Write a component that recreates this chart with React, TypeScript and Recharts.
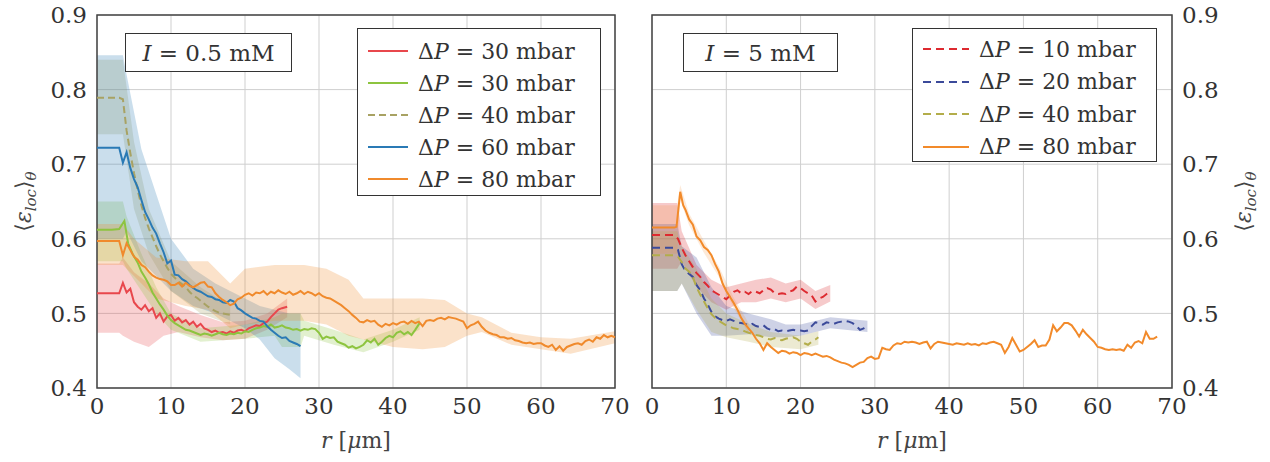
import React from 'react'
import { ComposedChart, Line, Area, XAxis, YAxis, CartesianGrid, ReferenceArea } from 'recharts'

// --- axes ---
const X_TICKS = [0, 10, 20, 30, 40, 50, 60, 70]
const Y_TICKS = [0.4, 0.5, 0.6, 0.7, 0.8, 0.9]

// --- I = 0.5 mM : [r, mean] and bands [r, low, high] ---
const L_RED_30 = [[0,0.527],[1,0.527],[2,0.527],[3,0.527],[3.5,0.541],[4,0.528],[4.5,0.533],[5,0.515],[5.5,0.509],[6,0.505],[6.5,0.511],[7,0.503],[7.5,0.507],[8,0.494],[8.5,0.5],[9,0.489],[9.5,0.496],[10,0.498],[10.5,0.49],[11,0.494],[11.5,0.488],[12,0.491],[12.5,0.485],[13,0.489],[13.5,0.482],[14,0.486],[14.5,0.48],[15,0.478],[15.5,0.475],[16,0.477],[16.5,0.474],[17,0.475],[17.5,0.473],[18,0.476],[18.5,0.474],[19,0.477],[19.5,0.478],[20,0.476],[20.5,0.48],[21,0.482],[21.5,0.484],[22,0.483],[22.5,0.487],[23,0.489],[23.5,0.495],[24,0.5],[24.5,0.505],[25,0.507],[25.7,0.509]]
const L_RED_30_BAND = [[0,0.474,0.567],[3,0.474,0.567],[3.5,0.47,0.575],[5,0.462,0.555],[7,0.455,0.54],[9,0.47,0.52],[11,0.475,0.51],[14,0.468,0.498],[17,0.464,0.488],[20,0.466,0.49],[23,0.478,0.5],[25.7,0.495,0.52]]

const L_GREEN_30 = [[0,0.612],[1,0.612],[2,0.612],[3,0.613],[3.7,0.624],[4.2,0.594],[4.8,0.58],[5.5,0.568],[6,0.556],[6.5,0.548],[7,0.539],[7.5,0.528],[8,0.52],[8.5,0.512],[9,0.505],[9.5,0.497],[10,0.491],[10.5,0.487],[11,0.484],[11.5,0.481],[12,0.478],[12.5,0.477],[13,0.475],[13.5,0.473],[14,0.471],[14.5,0.473],[15,0.472],[15.5,0.47],[16,0.472],[16.5,0.474],[17,0.472],[17.5,0.471],[18,0.473],[18.5,0.472],[19,0.474],[19.5,0.473],[20,0.476],[20.5,0.475],[21,0.478],[21.5,0.48],[22,0.481],[22.5,0.483],[23,0.482],[23.5,0.485],[24,0.481],[24.5,0.482],[25,0.484],[25.5,0.481],[26,0.48],[26.5,0.478],[27,0.479],[27.5,0.477],[28,0.479],[28.5,0.478],[29,0.48],[29.5,0.479],[30,0.474],[30.5,0.466],[31,0.469],[31.5,0.467],[32,0.468],[32.5,0.462],[33,0.46],[33.5,0.458],[34,0.454],[34.5,0.456],[35,0.453],[35.5,0.455],[36,0.458],[36.5,0.464],[37,0.461],[37.5,0.466],[38,0.458],[38.5,0.462],[39,0.467],[39.5,0.47],[40,0.468],[40.5,0.474],[41,0.476],[41.5,0.472],[42,0.475],[42.5,0.471],[43,0.478],[43.6,0.487]]
const L_GREEN_30_BAND = [[0,0.57,0.65],[3.5,0.57,0.65],[4,0.56,0.63],[6,0.53,0.58],[8,0.5,0.535],[10,0.478,0.5],[14,0.462,0.48],[20,0.466,0.485],[24,0.47,0.495],[25,0.455,0.5],[27.5,0.455,0.5],[28,0.47,0.49],[32,0.458,0.478],[36,0.448,0.465],[40,0.462,0.478],[43.6,0.478,0.495]]

const L_OLIVE_40 = [[0,0.789],[1,0.789],[2,0.789],[3,0.789],[3.5,0.787],[4,0.745],[4.5,0.715],[5,0.688],[5.5,0.665],[6,0.645],[6.5,0.628],[7,0.614],[7.5,0.602],[8,0.59],[8.5,0.579],[9,0.57],[9.5,0.561],[10,0.553],[10.5,0.548],[11,0.543],[11.5,0.539],[12,0.535],[12.5,0.529],[13,0.524],[13.5,0.521],[14,0.517],[14.5,0.513],[15,0.509],[15.5,0.506],[16,0.503],[16.5,0.501],[17,0.5],[18,0.498]]
const L_OLIVE_40_BAND = [[0,0.74,0.84],[3.5,0.74,0.84],[5,0.64,0.73],[7,0.58,0.64],[10,0.53,0.57],[14,0.5,0.535],[18,0.485,0.51]]

const L_BLUE_60 = [[0,0.722],[1,0.722],[2,0.722],[3,0.722],[3.5,0.702],[4,0.716],[4.5,0.695],[5,0.68],[5.5,0.669],[6,0.652],[6.5,0.636],[7,0.626],[7.5,0.615],[8,0.607],[8.5,0.594],[9,0.582],[9.5,0.567],[10,0.571],[10.5,0.552],[11,0.551],[11.5,0.546],[12,0.543],[12.5,0.538],[13,0.534],[13.5,0.531],[14,0.529],[14.5,0.526],[15,0.523],[15.5,0.522],[16,0.519],[16.5,0.518],[17,0.515],[17.5,0.514],[18,0.518],[18.5,0.516],[19,0.507],[19.5,0.504],[20,0.5],[20.5,0.497],[21,0.494],[21.5,0.493],[22,0.49],[22.5,0.489],[23,0.483],[23.5,0.478],[24,0.474],[24.5,0.47],[25,0.467],[25.5,0.468],[26,0.463],[26.5,0.461],[27,0.459],[27.5,0.456]]
const L_BLUE_60_BAND = [[0,0.6,0.846],[3.5,0.6,0.846],[4,0.61,0.82],[6,0.57,0.72],[8,0.55,0.66],[10,0.53,0.6],[13,0.51,0.56],[16,0.5,0.54],[20,0.48,0.52],[22,0.465,0.51],[24,0.44,0.505],[26,0.425,0.5],[27.5,0.413,0.5]]

const L_ORANGE_80 = [[0,0.597],[1,0.597],[2,0.597],[3,0.597],[3.5,0.578],[4,0.594],[4.5,0.585],[5,0.576],[5.5,0.572],[6,0.565],[6.5,0.562],[7,0.556],[7.5,0.551],[8,0.548],[8.5,0.546],[9,0.545],[9.5,0.543],[10,0.538],[10.5,0.538],[11,0.541],[11.5,0.536],[12,0.541],[12.5,0.537],[13,0.535],[13.5,0.538],[14,0.541],[14.5,0.542],[15,0.536],[15.5,0.535],[16,0.527],[16.5,0.522],[17,0.518],[17.5,0.515],[18,0.511],[18.5,0.513],[19,0.519],[19.5,0.521],[20,0.525],[20.5,0.527],[21,0.524],[21.5,0.528],[22,0.527],[22.5,0.53],[23,0.525],[23.5,0.529],[24,0.527],[24.5,0.531],[25,0.528],[25.5,0.526],[26,0.529],[26.5,0.525],[27,0.527],[27.5,0.53],[28,0.526],[28.5,0.529],[29,0.527],[29.5,0.524],[30,0.527],[30.5,0.523],[31,0.521],[31.5,0.52],[32,0.517],[32.5,0.514],[33,0.511],[33.5,0.507],[34,0.503],[34.5,0.498],[35,0.494],[35.5,0.489],[36,0.488],[36.5,0.491],[37,0.489],[37.5,0.49],[38,0.485],[38.5,0.482],[39,0.486],[39.5,0.484],[40,0.487],[40.5,0.485],[41,0.488],[41.5,0.489],[42,0.486],[42.5,0.49],[43,0.487],[43.5,0.489],[44,0.483],[44.5,0.49],[45,0.491],[45.5,0.49],[46,0.493],[46.5,0.494],[47,0.492],[47.5,0.495],[48,0.494],[48.5,0.493],[49,0.491],[49.5,0.489],[50,0.48],[50.5,0.484],[51,0.486],[51.5,0.489],[52,0.482],[52.5,0.477],[53,0.474],[53.5,0.472],[54,0.471],[54.5,0.468],[55,0.468],[55.5,0.466],[56,0.467],[56.5,0.464],[57,0.463],[57.5,0.461],[58,0.46],[58.5,0.461],[59,0.459],[59.5,0.46],[60,0.46],[60.5,0.457],[61,0.455],[61.5,0.458],[62,0.451],[62.5,0.456],[63,0.45],[63.5,0.455],[64,0.457],[64.5,0.459],[65,0.46],[65.5,0.458],[66,0.463],[66.5,0.465],[67,0.462],[67.5,0.468],[68,0.466],[68.5,0.471],[69,0.468],[69.5,0.47],[70,0.468]]
const L_ORANGE_80_BAND = [[0,0.565,0.62],[3.5,0.565,0.62],[5,0.55,0.6],[8,0.52,0.575],[12,0.51,0.57],[15,0.505,0.57],[18,0.48,0.54],[20,0.485,0.56],[24,0.49,0.565],[28,0.49,0.565],[31,0.485,0.56],[34,0.47,0.545],[36,0.465,0.52],[40,0.455,0.52],[44,0.452,0.52],[47,0.455,0.518],[50,0.47,0.5],[52,0.475,0.495],[56,0.458,0.474],[60,0.452,0.468],[64,0.446,0.466],[70,0.46,0.476]]

// --- I = 5 mM ---
const R_RED_10 = [[0,0.605],[1,0.605],[2,0.605],[3,0.605],[3.5,0.6],[4,0.588],[4.5,0.578],[5,0.57],[5.5,0.562],[6,0.554],[6.5,0.549],[7,0.542],[7.5,0.537],[8,0.531],[8.5,0.528],[9,0.525],[9.5,0.522],[10,0.519],[10.5,0.524],[11,0.529],[11.5,0.531],[12,0.527],[12.5,0.529],[13,0.526],[13.5,0.53],[14,0.529],[14.5,0.527],[15,0.531],[15.5,0.534],[16,0.532],[16.5,0.527],[17,0.526],[17.5,0.527],[18,0.526],[18.5,0.529],[19,0.531],[19.5,0.536],[20,0.534],[20.5,0.53],[21,0.527],[21.5,0.524],[22,0.516],[22.5,0.52],[23,0.522],[23.5,0.526],[24,0.528]]
const R_RED_10_BAND = [[0,0.56,0.648],[3.4,0.56,0.648],[4,0.57,0.61],[6,0.535,0.565],[8,0.515,0.545],[10,0.505,0.535],[12,0.515,0.54],[14,0.515,0.545],[16,0.52,0.548],[18,0.515,0.54],[20,0.52,0.545],[22,0.506,0.53],[24,0.516,0.538]]

const R_BLUE_20 = [[0,0.588],[1,0.588],[2,0.588],[3,0.588],[3.5,0.585],[4,0.566],[4.5,0.557],[5,0.553],[5.5,0.549],[6,0.538],[6.5,0.531],[7,0.52],[7.5,0.512],[8,0.502],[8.5,0.496],[9,0.493],[9.5,0.491],[10,0.49],[10.5,0.492],[11,0.49],[11.5,0.488],[12,0.487],[12.5,0.486],[13,0.484],[13.5,0.486],[14,0.483],[14.5,0.482],[15,0.484],[15.5,0.48],[16,0.478],[16.5,0.479],[17,0.476],[17.5,0.477],[18,0.476],[18.5,0.477],[19,0.478],[19.5,0.477],[20,0.477],[20.5,0.476],[21,0.477],[21.5,0.483],[22,0.488],[22.5,0.487],[23,0.485],[23.5,0.488],[24,0.487],[24.5,0.486],[25,0.488],[25.5,0.489],[26,0.49],[26.5,0.489],[27,0.487],[27.5,0.483],[28,0.478],[28.5,0.48],[29,0.483]]
const R_BLUE_20_BAND = [[0,0.53,0.62],[3.4,0.53,0.62],[4,0.54,0.59],[6,0.5,0.575],[8,0.47,0.535],[10,0.47,0.51],[13,0.472,0.5],[16,0.468,0.492],[18,0.468,0.485],[20,0.47,0.485],[24,0.48,0.495],[29,0.475,0.49]]

const R_OLIVE_40 = [[0,0.578],[1,0.578],[2,0.578],[3,0.578],[3.5,0.576],[4,0.569],[4.5,0.56],[5,0.556],[5.5,0.549],[6,0.535],[6.5,0.525],[7,0.516],[7.5,0.507],[8,0.499],[8.5,0.494],[9,0.49],[9.5,0.487],[10,0.484],[10.5,0.482],[11,0.48],[11.5,0.479],[12,0.478],[12.5,0.476],[13,0.474],[13.5,0.473],[14,0.471],[14.5,0.47],[15,0.468],[15.5,0.466],[16,0.465],[16.5,0.467],[17,0.465],[17.5,0.464],[18,0.466],[18.5,0.467],[19,0.468],[19.5,0.466],[20,0.462],[20.5,0.46],[21,0.458],[21.5,0.462],[22,0.465],[22.4,0.468]]
const R_OLIVE_40_BAND = [[0,0.53,0.61],[3.4,0.53,0.61],[4,0.54,0.59],[6,0.505,0.56],[8,0.475,0.52],[10,0.468,0.5],[13,0.462,0.486],[16,0.455,0.475],[20,0.452,0.47],[22.4,0.458,0.476]]

const R_ORANGE_80 = [[0,0.615],[1,0.615],[2,0.615],[3,0.615],[3.3,0.616],[3.8,0.663],[4.2,0.645],[4.5,0.639],[5,0.626],[5.5,0.619],[6,0.603],[6.5,0.598],[7,0.589],[7.5,0.585],[8,0.578],[8.5,0.566],[9,0.556],[9.5,0.54],[10,0.53],[10.5,0.522],[11,0.514],[11.5,0.505],[12,0.494],[12.5,0.486],[13,0.48],[13.5,0.474],[14,0.466],[14.5,0.46],[15,0.451],[15.5,0.46],[16,0.455],[16.5,0.451],[17,0.447],[17.5,0.45],[18,0.449],[18.5,0.446],[19,0.448],[19.5,0.447],[20,0.444],[20.5,0.447],[21,0.446],[21.5,0.444],[22,0.446],[22.5,0.444],[23,0.442],[23.5,0.443],[24,0.441],[24.5,0.438],[25,0.436],[25.5,0.434],[26,0.433],[26.5,0.431],[27,0.428],[27.5,0.431],[28,0.434],[28.5,0.435],[29,0.44],[29.5,0.442],[30,0.439],[30.5,0.44],[31,0.454],[31.5,0.452],[32,0.451],[32.5,0.457],[33,0.46],[33.5,0.459],[34,0.462],[34.5,0.461],[35,0.462],[35.5,0.461],[36,0.459],[36.5,0.461],[37,0.462],[37.5,0.453],[38,0.459],[38.5,0.462],[39,0.461],[39.5,0.46],[40,0.459],[40.5,0.458],[41,0.46],[41.5,0.459],[42,0.458],[42.5,0.46],[43,0.458],[43.5,0.459],[44,0.457],[44.5,0.46],[45,0.459],[45.5,0.461],[46,0.462],[46.5,0.46],[47,0.458],[47.5,0.447],[48,0.455],[48.5,0.467],[49,0.458],[49.5,0.449],[50,0.451],[50.5,0.455],[51,0.459],[51.5,0.464],[52,0.455],[52.5,0.457],[53,0.457],[53.5,0.465],[54,0.484],[54.5,0.476],[55,0.481],[55.5,0.487],[56,0.487],[56.5,0.484],[57,0.477],[57.5,0.469],[58,0.478],[58.5,0.472],[59,0.467],[59.5,0.462],[60,0.455],[60.5,0.454],[61,0.452],[61.5,0.451],[62,0.452],[62.5,0.451],[63,0.452],[63.5,0.45],[64,0.458],[64.5,0.454],[65,0.461],[65.5,0.463],[66,0.46],[66.5,0.475],[67,0.466],[67.5,0.466],[68,0.469]]
const R_ORANGE_80_BAND = [[0,0.58,0.645],[3.4,0.58,0.645],[3.8,0.652,0.672],[5,0.618,0.634],[7,0.581,0.597],[9,0.549,0.563],[11,0.507,0.521],[13,0.473,0.487]]

const FONT = '"DejaVu Serif", serif'

const toLine = (a: number[][]) => a.map(([r, v]) => ({ r, v }))
const toBand = (a: number[][]) => a.map(([r, lo, hi]) => ({ r, band: [lo, hi] }))

type Series = { label: string; color: string; dash?: string; line: number[][]; band: number[][]; bandOpacity?: number }

const LEFT: Series[] = [
  { label: '30', color: '#e8474c', line: L_RED_30, band: L_RED_30_BAND },
  { label: '30', color: '#8dc43f', line: L_GREEN_30, band: L_GREEN_30_BAND },
  { label: '40', color: '#a8a263', dash: '7 4', line: L_OLIVE_40, band: L_OLIVE_40_BAND },
  { label: '60', color: '#2a7ab5', line: L_BLUE_60, band: L_BLUE_60_BAND },
  { label: '80', color: '#f08a2c', line: L_ORANGE_80, band: L_ORANGE_80_BAND },
]

const RIGHT: Series[] = [
  { label: '10', color: '#dd2a30', dash: '8 5', line: R_RED_10, band: R_RED_10_BAND },
  { label: '20', color: '#3b4a9a', dash: '8 5', line: R_BLUE_20, band: R_BLUE_20_BAND },
  { label: '40', color: '#b3ad4a', dash: '8 5', line: R_OLIVE_40, band: R_OLIVE_40_BAND },
  { label: '80', color: '#f28a2a', line: R_ORANGE_80, band: R_ORANGE_80_BAND, bandOpacity: 0.18 },
]

const tickStyle = { fontSize: 23, fill: '#333', fontFamily: FONT }

function YLabel({ viewBox, side }: any) {
  const cx = side === 'left' ? viewBox.x + 25 : viewBox.x + 73
  const cy = viewBox.y + viewBox.height / 2
  return (
    <text x={0} y={0} transform={`translate(${cx + 6},${cy}) rotate(-90)`} textAnchor="middle" fontFamily={FONT} fontSize={22} fill="#444">
      ⟨<tspan fontStyle="italic">ε</tspan>
      <tspan fontStyle="italic" fontSize={15} dy={5}>loc</tspan>
      <tspan dy={-5}>⟩</tspan>
      <tspan fontStyle="italic" fontSize={15} dy={5}>θ</tspan>
    </text>
  )
}

function XLabel({ viewBox }: any) {
  return (
    <text x={viewBox.x + viewBox.width / 2} y={viewBox.y + 60} textAnchor="middle" fontFamily={FONT} fontSize={22} fill="#444">
      <tspan fontStyle="italic">r</tspan> [<tspan fontStyle="italic">μ</tspan>m]
    </text>
  )
}

function Panel({ series, side, width, margin }: { series: Series[]; side: 'left' | 'right'; width: number; margin: any }) {
  return (
    <ComposedChart width={width} height={462} margin={margin}>
      <CartesianGrid stroke="#cfcfcf" strokeWidth={1} />
      <XAxis
        dataKey="r" type="number" domain={[0, 70]} ticks={X_TICKS} allowDuplicatedCategory={false}
        height={74} tickSize={0} tickMargin={10} axisLine={false} tick={tickStyle}
        label={<XLabel />}
      />
      <YAxis
        type="number" domain={[0.4, 0.9]} ticks={Y_TICKS} orientation={side} width={side === 'left' ? 97 : 98}
        tickSize={0} tickMargin={10} axisLine={false} tick={tickStyle} tickFormatter={(v: number) => v.toFixed(1)}
        label={<YLabel side={side} />}
      />
      {series.map((s, i) => (
        <Area key={'b' + i} data={toBand(s.band)} dataKey="band" type="linear" stroke="none" fill={s.color} fillOpacity={s.bandOpacity ?? 0.25} isAnimationActive={false} />
      ))}
      {series.map((s, i) => (
        <Line key={'l' + i} data={toLine(s.line)} dataKey="v" type="linear" stroke={s.color} strokeWidth={2} strokeDasharray={s.dash} dot={false} isAnimationActive={false} />
      ))}
      <ReferenceArea x1={0} x2={70} y1={0.4} y2={0.9} fill="none" stroke="#444" strokeWidth={1.5} ifOverflow="visible" />
    </ComposedChart>
  )
}

function LegendBox({ series, left, top, width, height, rowH, firstY, sampleW }: any) {
  return (
    <div style={{ position: 'absolute', left, top, width, height, border: '1.5px solid #333', background: '#fff', boxSizing: 'border-box', fontFamily: FONT, fontSize: 22, color: '#333' }}>
      {series.map((s: Series, i: number) => (
        <div key={i} style={{ position: 'absolute', left: 10, top: firstY + i * rowH - 14, height: 28, display: 'flex', alignItems: 'center', whiteSpace: 'nowrap' }}>
          <svg width={sampleW} height={10} style={{ marginRight: 10 }}>
            <line x1={0} y1={5} x2={sampleW} y2={5} stroke={s.color} strokeWidth={2} strokeDasharray={s.dash} />
          </svg>
          <span>Δ<i>P</i> = {s.label} mbar</span>
        </div>
      ))}
    </div>
  )
}

function NoteBox({ left, top, width, children }: any) {
  return (
    <div style={{ position: 'absolute', left, top, width, height: 39, border: '1.5px solid #333', background: '#fff', boxSizing: 'border-box', fontFamily: FONT, fontSize: 23, color: '#333', display: 'flex', alignItems: 'center', justifyContent: 'center', whiteSpace: 'nowrap' }}>
      {children}
    </div>
  )
}

export default function App() {
  return (
    <div style={{ position: 'absolute', left: 0, top: 0, width: 1270, height: 462, background: '#fff', overflow: 'hidden' }}>
      <div style={{ position: 'absolute', left: 0, top: 0 }}>
        <Panel series={LEFT} side="left" width={640} margin={{ top: 15, right: 25, bottom: 0, left: 0 }} />
      </div>
      <div style={{ position: 'absolute', left: 640, top: 0 }}>
        <Panel series={RIGHT} side="right" width={630} margin={{ top: 15, right: 0, bottom: 0, left: 12 }} />
      </div>
      <NoteBox left={125} top={33} width={167}><i>I</i>&nbsp;= 0.5 mM</NoteBox>
      <NoteBox left={683} top={33} width={155}><i>I</i>&nbsp;= 5 mM</NoteBox>
      <LegendBox series={LEFT} left={357} top={28} width={244} height={168} rowH={32} firstY={22} sampleW={40} />
      <LegendBox series={RIGHT} left={912} top={28} width={245} height={134} rowH={32.5} firstY={20} sampleW={46} />
    </div>
  )
}
